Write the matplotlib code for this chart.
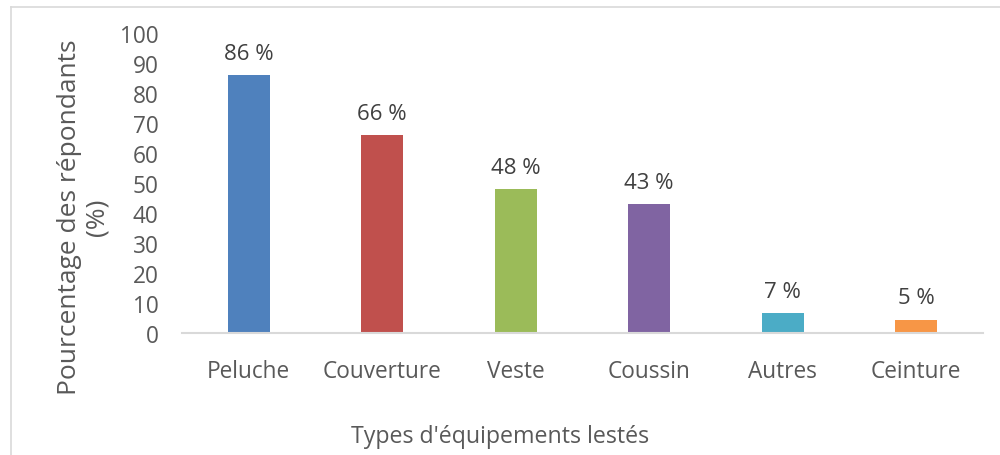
import matplotlib
matplotlib.use("Agg")
import matplotlib.pyplot as plt
from matplotlib.lines import Line2D

categories = ["Peluche", "Couverture", "Veste", "Coussin", "Autres", "Ceinture"]
values = [86, 66, 48, 43, 6.7, 4.5]
value_labels = ["86 %", "66 %", "48 %", "43 %", "7 %", "5 %"]
colors = ["#4f81bd", "#c0504d", "#9bbb59", "#8064a2", "#4bacc6", "#f79646"]
yticks = list(range(0, 101, 10))

plt.rcParams['font.family'] = ['Open Sans', 'DejaVu Sans']
text_color = "#595959"

fig = plt.figure(figsize=(10, 4.56), dpi=100)
ax = fig.add_axes([0.182, 1 - 334 / 456, 0.801, 300 / 456])

x = list(range(len(categories)))
bars = ax.bar(x, values, width=0.315, color=colors, zorder=2)
for xi, v, lab in zip(x, values, value_labels):
    ax.annotate(lab, (xi, v), xytext=(0, 8), textcoords="offset points",
                ha="center", va="bottom", fontsize=16, color="#404040")

ax.set_xlim(-0.5, len(categories) - 0.5)
ax.set_ylim(0, 100)
ax.set_yticks(yticks)
ax.set_xticks(x)
ax.set_xticklabels(categories)
ax.tick_params(axis="both", length=0, labelsize=16.3, labelcolor=text_color)
ax.tick_params(axis="x", pad=19)
ax.tick_params(axis="y", pad=17)
for s in ["top", "right", "left"]:
    ax.spines[s].set_visible(False)
ax.spines["bottom"].set_color("#d9d9d9")
ax.spines["bottom"].set_linewidth(1.5)

fig.text(0.083, 1 - 217 / 456, "Pourcentage des répondants\n(%)", rotation=90,
         ha="center", va="center", fontsize=19, color=text_color, linespacing=1.13)
fig.text(0.5, 1 - 437 / 456, "Types d'équipements lestés", ha="center", va="center",
         fontsize=16.7, color=text_color)

fig.add_artist(Line2D([0.0105, 0.0105], [0, 1 - 7.5 / 456], transform=fig.transFigure,
                      color="#d9d9d9", lw=1.2))
fig.add_artist(Line2D([0.0105, 1], [1 - 7.5 / 456, 1 - 7.5 / 456], transform=fig.transFigure,
                      color="#d9d9d9", lw=1.2))

fig.savefig("out.png", dpi=100, facecolor="white")
